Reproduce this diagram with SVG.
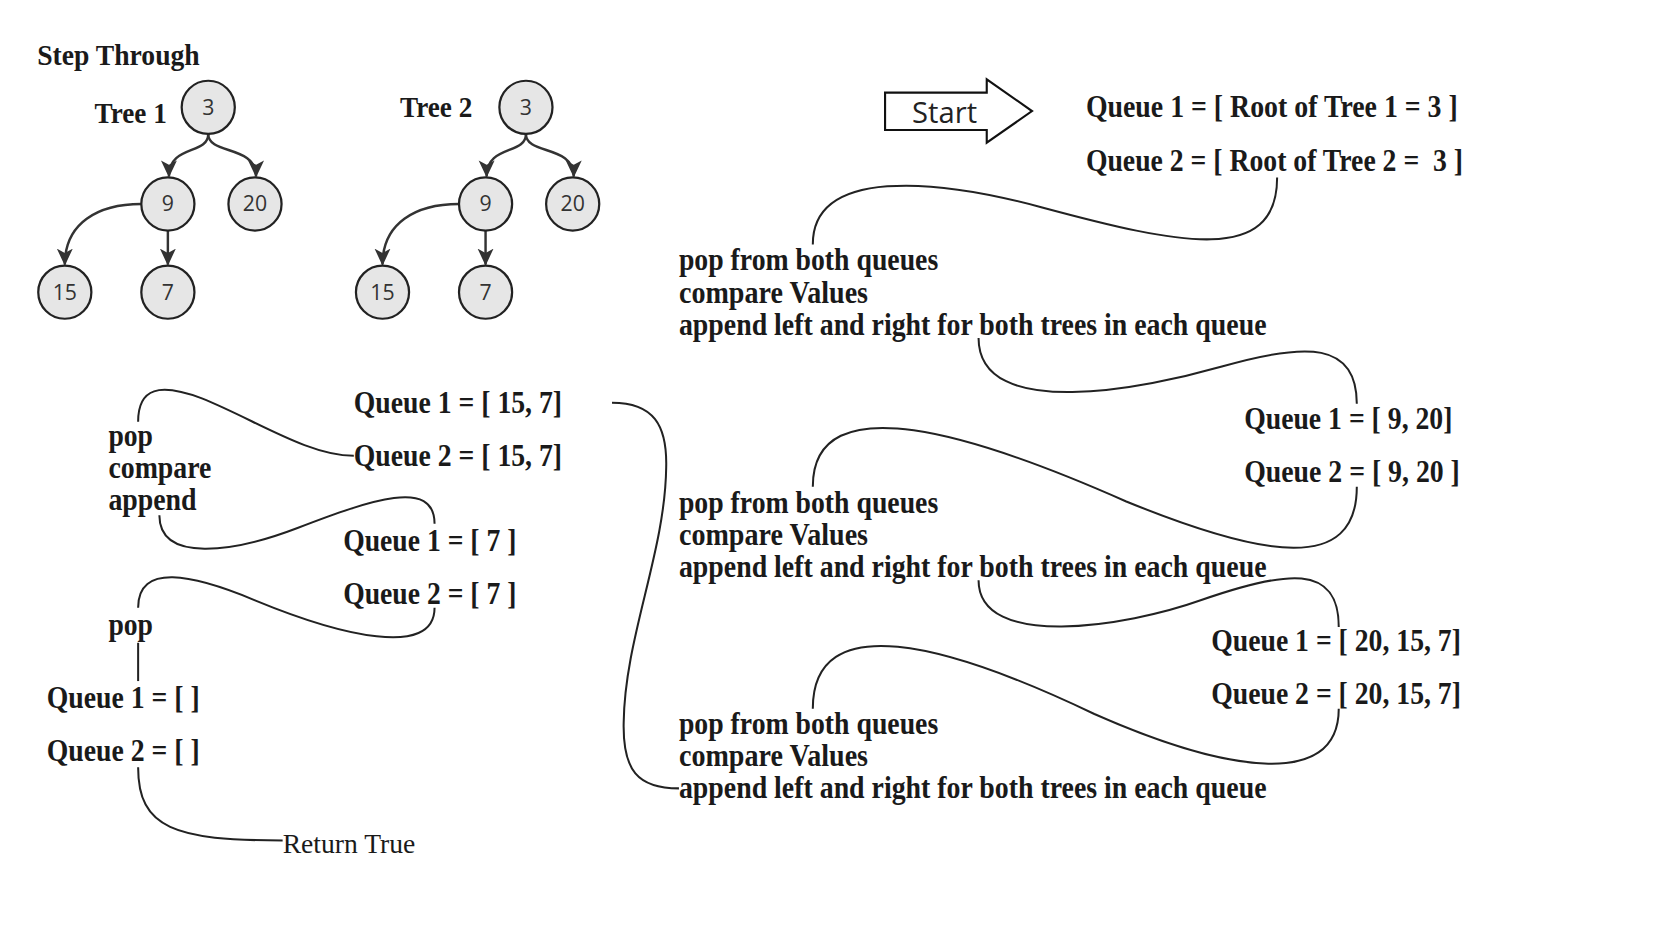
<svg xmlns="http://www.w3.org/2000/svg" width="1666" height="937" viewBox="0 0 1666 937">
<defs>
<style>
.b { font-family: "Liberation Serif","Times New Roman",serif; font-weight: bold; font-size: 30px; fill: #1a1a1a; }
.h { font-family: "Liberation Serif","Times New Roman",serif; font-weight: bold; font-size: 27px; fill: #1a1a1a; }
.r { font-family: "Liberation Serif","Times New Roman",serif; font-size: 26px; fill: #1a1a1a; }
.n circle { fill: #e6e6e6; stroke: #222; stroke-width: 2.1; }
.n text { font-family: "Open Sans","Noto Sans",sans-serif; font-size: 20px; fill: #333; text-anchor: middle; }
.edge { fill: none; stroke: #333; stroke-width: 2.3; marker-end: url(#ah); }
.conn path { fill: none; stroke: #222; stroke-width: 1.9; }
.start polygon { fill: #fff; stroke: #111; stroke-width: 2; }
.start text { font-family: "Open Sans","Noto Sans",sans-serif; font-size: 27.5px; fill: #222; text-anchor: middle; }
</style>
<marker id="ah" viewBox="0 0 16 16" refX="15" refY="8" markerWidth="16" markerHeight="16" markerUnits="userSpaceOnUse" orient="auto">
<path d="M0,0.5 L16,8 L0,15.5 L4,8 z" fill="#333"/>
</marker>
</defs>
<rect width="1666" height="937" fill="#fff"/>
<g transform="scale(1.0625)">

<g id="title"><text class="h" x="35" y="61.5" textLength="153" lengthAdjust="spacingAndGlyphs">Step Through</text></g>
<g id="tree1-label"><text class="h" x="89" y="116" textLength="68" lengthAdjust="spacingAndGlyphs">Tree 1</text></g>
<g id="tree2-label"><text class="h" x="376.5" y="110.5" textLength="68" lengthAdjust="spacingAndGlyphs">Tree 2</text></g>

<g id="tree-edges">
<path class="edge" d="M196,126 C196,146 159,136 159,166"/>
<path class="edge" d="M196,126 C196,146 241,136 241,166"/>
<path class="edge" d="M133,192 C92,192 61,210 61,249"/>
<path class="edge" d="M158,217 L158,249"/>
<path class="edge" d="M495,126 C495,146 458,136 458,166"/>
<path class="edge" d="M495,126 C495,146 540,136 540,166"/>
<path class="edge" d="M432,192 C391,192 360,210 360,249"/>
<path class="edge" d="M457,217 L457,249"/>
</g>

<g id="t1-3" class="n"><circle cx="196" cy="101" r="25"/><text x="196" y="108">3</text></g>
<g id="t1-9" class="n"><circle cx="158" cy="192" r="25"/><text x="158" y="199">9</text></g>
<g id="t1-20" class="n"><circle cx="240" cy="192" r="25"/><text x="240" y="199">20</text></g>
<g id="t1-15" class="n"><circle cx="61" cy="275" r="25"/><text x="61" y="282">15</text></g>
<g id="t1-7" class="n"><circle cx="158" cy="275" r="25"/><text x="158" y="282">7</text></g>
<g id="t2-3" class="n"><circle cx="495" cy="101" r="25"/><text x="495" y="108">3</text></g>
<g id="t2-9" class="n"><circle cx="457" cy="192" r="25"/><text x="457" y="199">9</text></g>
<g id="t2-20" class="n"><circle cx="539" cy="192" r="25"/><text x="539" y="199">20</text></g>
<g id="t2-15" class="n"><circle cx="360" cy="275" r="25"/><text x="360" y="282">15</text></g>
<g id="t2-7" class="n"><circle cx="457" cy="275" r="25"/><text x="457" y="282">7</text></g>

<g id="start" class="start">
<polygon points="833,87.2 928.7,87.2 928.7,74.6 971.3,104.5 928.7,134.3 928.7,122.4 833,122.4"/>
<text x="889" y="115.8">Start</text>
</g>

<g id="connectors" class="conn">
<path d="M1202,167 C1202,250 1110,230 980,195 C880,168 765,158 765,230"/>
<path d="M921,318 C921,398 1080,365 1150,345 C1230,322 1277,322 1277,380"/>
<path d="M1277,458 C1277,540 1190,525 1060,472 C920,410 765,360 765,458"/>
<path d="M921,546 C921,612 1060,590 1130,565 C1210,537 1260,530 1260,590"/>
<path d="M1260,667 C1260,745 1150,725 1030,672 C890,605 765,572 765,667"/>
<path d="M576,379 C615,379 628,400 627,440 C626,520 588,600 587,680 C586,725 600,742 639,742"/>
<path d="M333,429 C290,429 240,395 190,375 C150,360 130,365 130,397"/>
<path d="M150,485 C150,530 220,520 280,497 C350,470 409,450 409,493"/>
<path d="M130,572 C130,530 180,540 240,565 C320,598 409,620 409,572"/>
<path d="M130,605 L130,641"/>
<path d="M130,722 C130,780 165,791 266,791"/>
</g>

<g id="q0">
<text class="b" x="1022" y="110.5" textLength="350" lengthAdjust="spacingAndGlyphs">Queue 1 = [ Root of Tree 1 = 3 ]</text>
<text class="b" x="1022" y="160.5" textLength="355" lengthAdjust="spacingAndGlyphs" xml:space="preserve">Queue 2 = [ Root of Tree 2 =  3 ]</text>
</g>
<g id="step1">
<text class="b" x="639" y="254" textLength="244" lengthAdjust="spacingAndGlyphs">pop from both queues</text>
<text class="b" x="639" y="285" textLength="178" lengthAdjust="spacingAndGlyphs">compare Values</text>
<text class="b" x="639" y="315" textLength="553" lengthAdjust="spacingAndGlyphs">append left and right for both trees in each queue</text>
</g>
<g id="q1">
<text class="b" x="1171" y="403.5" textLength="196" lengthAdjust="spacingAndGlyphs">Queue 1 = [ 9, 20]</text>
<text class="b" x="1171" y="453.5" textLength="203" lengthAdjust="spacingAndGlyphs">Queue 2 = [ 9, 20 ]</text>
</g>
<g id="step2">
<text class="b" x="639" y="483" textLength="244" lengthAdjust="spacingAndGlyphs">pop from both queues</text>
<text class="b" x="639" y="513" textLength="178" lengthAdjust="spacingAndGlyphs">compare Values</text>
<text class="b" x="639" y="543" textLength="553" lengthAdjust="spacingAndGlyphs">append left and right for both trees in each queue</text>
</g>
<g id="q2">
<text class="b" x="1140" y="612.5" textLength="235" lengthAdjust="spacingAndGlyphs">Queue 1 = [ 20, 15, 7]</text>
<text class="b" x="1140" y="662.5" textLength="235" lengthAdjust="spacingAndGlyphs">Queue 2 = [ 20, 15, 7]</text>
</g>
<g id="step3">
<text class="b" x="639" y="691" textLength="244" lengthAdjust="spacingAndGlyphs">pop from both queues</text>
<text class="b" x="639" y="721" textLength="178" lengthAdjust="spacingAndGlyphs">compare Values</text>
<text class="b" x="639" y="751" textLength="553" lengthAdjust="spacingAndGlyphs">append left and right for both trees in each queue</text>
</g>
<g id="q3">
<text class="b" x="333" y="388.5" textLength="196" lengthAdjust="spacingAndGlyphs">Queue 1 = [ 15, 7]</text>
<text class="b" x="333" y="438.5" textLength="196" lengthAdjust="spacingAndGlyphs">Queue 2 = [ 15, 7]</text>
</g>
<g id="step4">
<text class="b" x="102" y="420" textLength="42" lengthAdjust="spacingAndGlyphs">pop</text>
<text class="b" x="102" y="450" textLength="97" lengthAdjust="spacingAndGlyphs">compare</text>
<text class="b" x="102" y="480" textLength="83" lengthAdjust="spacingAndGlyphs">append</text>
</g>
<g id="q4">
<text class="b" x="323" y="518.5" textLength="163" lengthAdjust="spacingAndGlyphs">Queue 1 = [ 7 ]</text>
<text class="b" x="323" y="568.5" textLength="163" lengthAdjust="spacingAndGlyphs">Queue 2 = [ 7 ]</text>
</g>
<g id="step5"><text class="b" x="102" y="598" textLength="42" lengthAdjust="spacingAndGlyphs">pop</text></g>
<g id="q5">
<text class="b" x="44" y="666.5" textLength="144" lengthAdjust="spacingAndGlyphs">Queue 1 = [ ]</text>
<text class="b" x="44" y="716.5" textLength="144" lengthAdjust="spacingAndGlyphs">Queue 2 = [ ]</text>
</g>
<g id="result"><text class="r" x="266" y="803">Return True</text></g>
</g>
</svg>
